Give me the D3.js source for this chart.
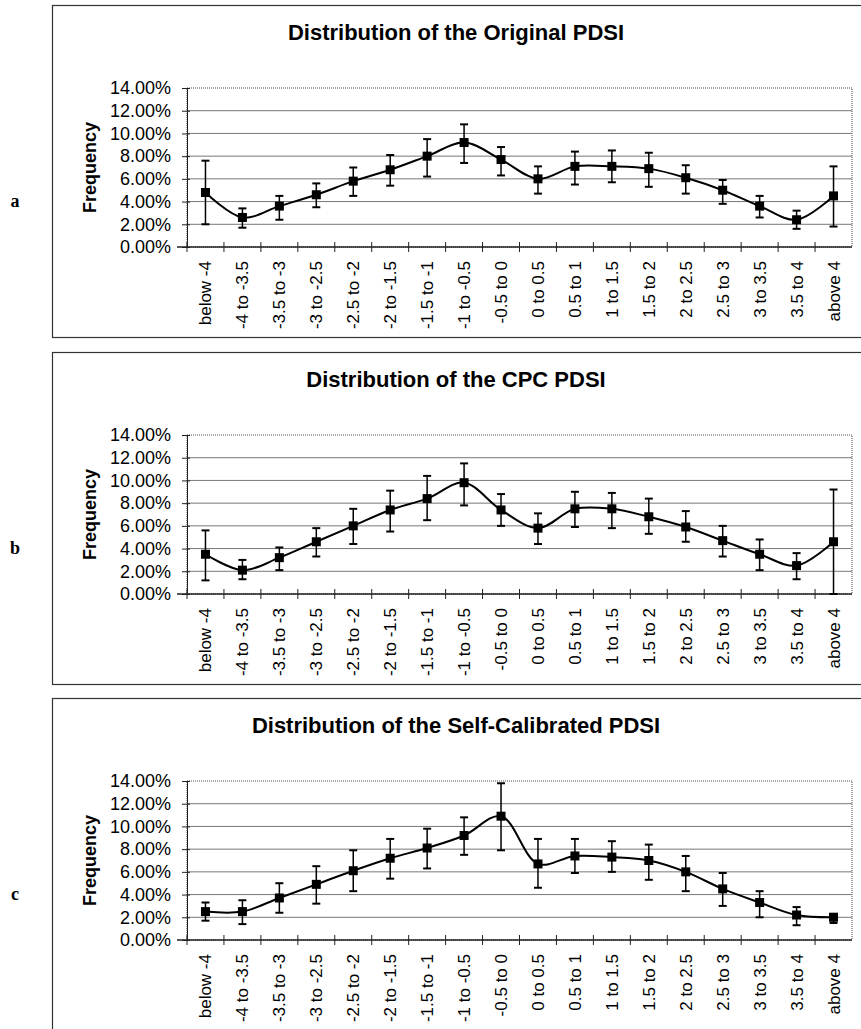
<!DOCTYPE html>
<html lang="en">
<head>
    <meta charset="UTF-8">
    <title>PDSI distributions</title>
    <script src="https://cdnjs.cloudflare.com/ajax/libs/d3/7.8.5/d3.min.js"></script>
    <style>
        body {
            margin: 0;
            background: #fff;
            font-family: "Liberation Sans", Arial, sans-serif;
        }
    </style>
</head>
<body>
    <script>
        // categories (PDSI classes)
        const categories = ['below -4', '-4 to -3.5', '-3.5 to -3', '-3 to -2.5', '-2.5 to -2',
            '-2 to -1.5', '-1.5 to -1', '-1 to -0.5', '-0.5 to 0', '0 to 0.5', '0.5 to 1',
            '1 to 1.5', '1.5 to 2', '2 to 2.5', '2.5 to 3', '3 to 3.5', '3.5 to 4', 'above 4'];

        const yTicks = [0, 0.02, 0.04, 0.06, 0.08, 0.10, 0.12, 0.14];

        // frequencies (%), with upper / lower error bar ends
        const originalMean = [4.8, 2.6, 3.6, 4.6, 5.8, 6.8, 8.0, 9.2, 7.7, 6.0, 7.1, 7.1, 6.9, 6.1, 5.0, 3.6, 2.4, 4.5];
        const originalHigh = [7.6, 3.4, 4.5, 5.6, 7.0, 8.1, 9.5, 10.8, 8.8, 7.1, 8.4, 8.5, 8.3, 7.2, 5.9, 4.5, 3.2, 7.1];
        const originalLow  = [2.0, 1.7, 2.4, 3.5, 4.5, 5.4, 6.2, 7.4, 6.3, 4.7, 5.5, 5.7, 5.3, 4.7, 3.8, 2.6, 1.6, 1.8];

        const cpcMean = [3.5, 2.1, 3.2, 4.6, 6.0, 7.4, 8.4, 9.8, 7.4, 5.8, 7.5, 7.5, 6.8, 5.9, 4.7, 3.5, 2.5, 4.6];
        const cpcHigh = [5.6, 3.0, 4.1, 5.8, 7.5, 9.1, 10.4, 11.5, 8.8, 7.1, 9.0, 8.9, 8.4, 7.3, 6.0, 4.8, 3.6, 9.2];
        const cpcLow  = [1.2, 1.3, 2.1, 3.3, 4.4, 5.5, 6.5, 7.8, 6.0, 4.4, 5.9, 5.8, 5.3, 4.6, 3.3, 2.1, 1.3, 0.0];

        const scMean = [2.5, 2.5, 3.7, 4.9, 6.1, 7.2, 8.1, 9.2, 10.9, 6.7, 7.4, 7.3, 7.0, 6.0, 4.5, 3.3, 2.2, 2.0];
        const scHigh = [3.3, 3.5, 5.0, 6.5, 7.9, 8.9, 9.8, 10.8, 13.8, 8.9, 8.9, 8.7, 8.4, 7.4, 5.9, 4.3, 2.9, 2.3];
        const scLow  = [1.7, 1.4, 2.4, 3.2, 4.3, 5.4, 6.3, 7.5, 7.9, 4.6, 5.9, 6.0, 5.3, 4.3, 3.0, 2.0, 1.3, 1.5];

        const panels = [
            { letter: 'a', title: 'Distribution of the Original PDSI', mean: originalMean, high: originalHigh, low: originalLow },
            { letter: 'b', title: 'Distribution of the CPC PDSI', mean: cpcMean, high: cpcHigh, low: cpcLow },
            { letter: 'c', title: 'Distribution of the Self-Calibrated PDSI', mean: scMean, high: scHigh, low: scLow }
        ];

        const width = 861;
        const height = 1029;

        const svg = d3.select('body')
            .append('svg')
            .attr('width', width)
            .attr('height', height);

        // plot geometry (same for every panel, shifted down)
        const plotLeft = 187, plotRight = 852, plotTop = 88, plotBottom = 247;
        const panelStep = 346.5;

        const x = d3.scaleBand()
            .domain(categories)
            .range([plotLeft, plotRight]);

        const y = d3.scaleLinear()
            .domain([0, 0.14])
            .range([plotBottom, plotTop]);

        const line = d3.line()
            .x((d, i) => x(categories[i]) + x.bandwidth() / 2)
            .y(d => y(d / 100))
            .curve(d3.curveCatmullRom.alpha(0.5));

        panels.forEach((p, k) => {
            const g = svg.append('g')
                .attr('transform', `translate(0,${Math.round(k * panelStep)})`);

            // outer panel frame
            g.append('rect')
                .attr('x', 52.5)
                .attr('y', 5.5)
                .attr('width', 820)
                .attr('height', 332)
                .attr('fill', 'none')
                .attr('stroke', '#333')
                .attr('stroke-width', 1.2);

            // panel letter
            g.append('text')
                .attr('x', 15)
                .attr('y', 207)
                .attr('font-family', '"Liberation Serif", "Times New Roman", serif')
                .attr('font-weight', 'bold')
                .attr('font-size', 18)
                .attr('text-anchor', 'middle')
                .text(p.letter);

            // title
            g.append('text')
                .attr('x', 456)
                .attr('y', 40)
                .attr('text-anchor', 'middle')
                .attr('font-weight', 'bold')
                .attr('font-size', 22)
                .text(p.title);

            // gridlines
            g.append('g')
                .selectAll('line')
                .data(yTicks.filter(t => t > 0 && t < 0.14))
                .enter()
                .append('line')
                .attr('x1', plotLeft)
                .attr('x2', plotRight)
                .attr('y1', d => y(d))
                .attr('y2', d => y(d))
                .attr('stroke', '#777')
                .attr('stroke-width', 1);

            // plot frame (dotted gray)
            g.append('rect')
                .attr('x', plotLeft)
                .attr('y', plotTop)
                .attr('width', plotRight - plotLeft)
                .attr('height', plotBottom - plotTop)
                .attr('fill', 'none')
                .attr('stroke', '#888')
                .attr('stroke-dasharray', '1,1')
                .attr('stroke-width', 1.5);

            // y axis
            const yAxis = d3.axisLeft(y)
                .tickValues(yTicks)
                .tickFormat(d3.format('.2%'))
                .tickSizeInner(5)
                .tickSizeOuter(0);

            const ya = g.append('g')
                .attr('transform', `translate(${plotLeft},0)`)
                .call(yAxis);
            ya.select('.domain').attr('stroke', '#222');
            ya.selectAll('.tick line').attr('x1', -5).attr('x2', 3).attr('stroke', '#222');
            ya.selectAll('.tick text')
                .attr('x', -16)
                .attr('font-family', '"Liberation Sans", Arial, sans-serif')
                .attr('font-size', 18)
                .attr('fill', '#000');

            // x axis: ticks between categories
            const xa = g.append('g')
                .attr('transform', `translate(0,${plotBottom})`);
            xa.append('line')
                .attr('x1', plotLeft - 10)
                .attr('x2', plotRight)
                .attr('stroke', '#222')
                .attr('stroke-width', 1.5);
            xa.selectAll('line.tk')
                .data(categories)
                .enter()
                .append('line')
                .attr('class', 'tk')
                .attr('x1', d => x(d))
                .attr('x2', d => x(d))
                .attr('y1', -5)
                .attr('y2', 5)
                .attr('stroke', '#222');
            xa.selectAll('text')
                .data(categories)
                .enter()
                .append('text')
                .attr('transform', d => `translate(${x(d) + x.bandwidth() / 2 + 6},14) rotate(-90)`)
                .attr('text-anchor', 'end')
                .attr('font-size', 17)
                .text(d => d);

            // y axis title
            g.append('text')
                .attr('transform', `translate(96,${(plotTop + plotBottom) / 2}) rotate(-90)`)
                .attr('text-anchor', 'middle')
                .attr('font-weight', 'bold')
                .attr('font-size', 18)
                .text('Frequency');

            // smoothed line
            g.append('path')
                .datum(p.mean)
                .attr('d', line)
                .attr('fill', 'none')
                .attr('stroke', '#000')
                .attr('stroke-width', 2);

            // error bars
            const eb = g.append('g')
                .selectAll('g')
                .data(categories)
                .enter()
                .append('g')
                .attr('transform', d => `translate(${x(d) + x.bandwidth() / 2},0)`);
            eb.append('line')
                .attr('y1', (d, i) => y(p.high[i] / 100))
                .attr('y2', (d, i) => y(p.low[i] / 100))
                .attr('stroke', '#000')
                .attr('stroke-width', 1.5);
            eb.append('line')
                .attr('x1', -4).attr('x2', 4)
                .attr('y1', (d, i) => y(p.high[i] / 100))
                .attr('y2', (d, i) => y(p.high[i] / 100))
                .attr('stroke', '#000')
                .attr('stroke-width', 2);
            eb.append('line')
                .attr('x1', -4).attr('x2', 4)
                .attr('y1', (d, i) => y(p.low[i] / 100))
                .attr('y2', (d, i) => y(p.low[i] / 100))
                .attr('stroke', '#000')
                .attr('stroke-width', 2);

            // square markers
            eb.append('rect')
                .attr('x', -4.5)
                .attr('y', (d, i) => y(p.mean[i] / 100) - 4.5)
                .attr('width', 9)
                .attr('height', 9)
                .attr('fill', '#000');
        });
    </script>
</body>
</html>
